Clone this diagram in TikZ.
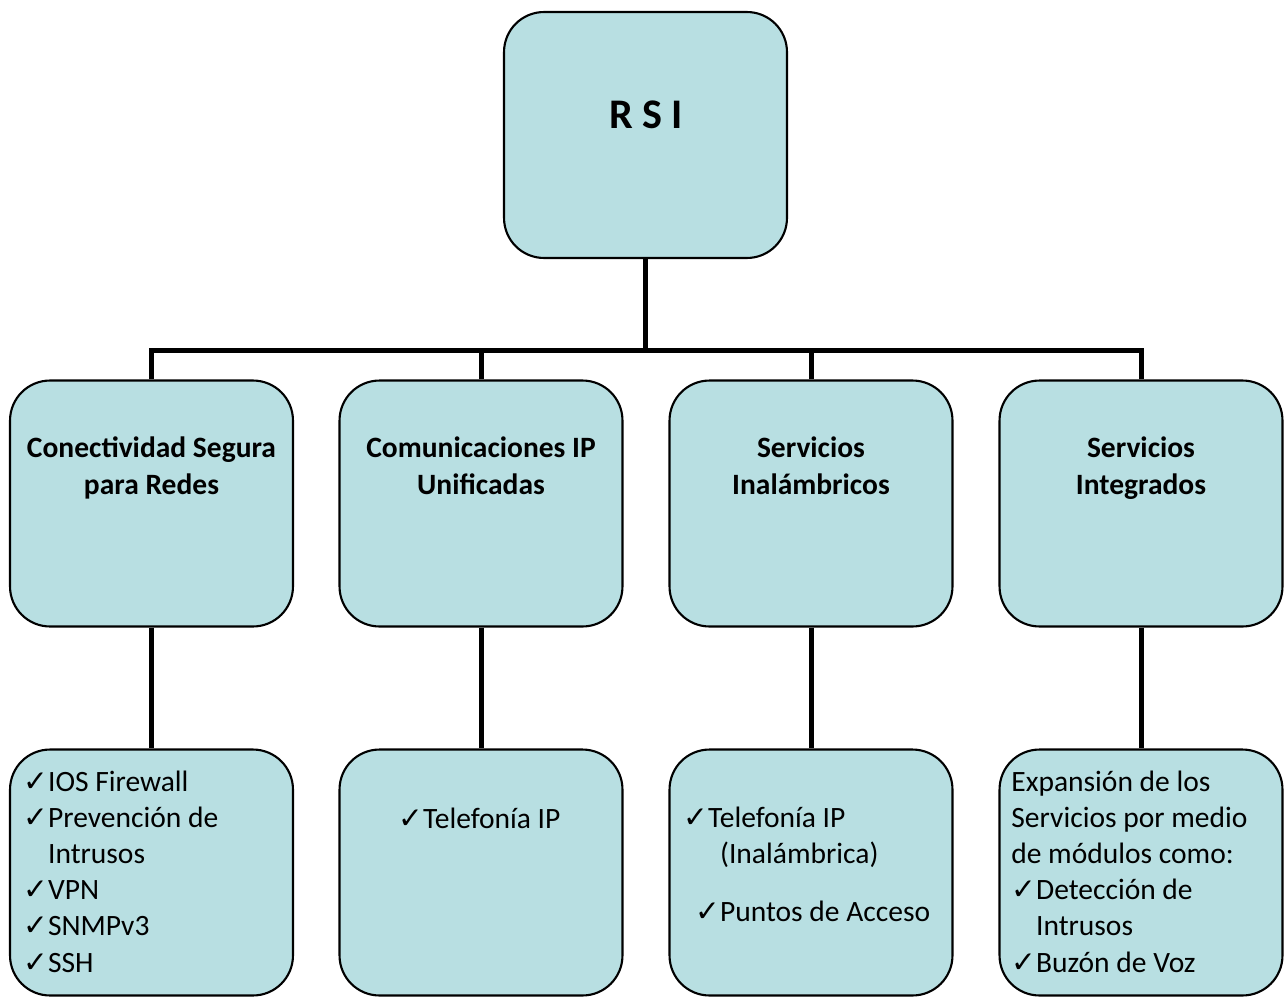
\documentclass[tikz,border=0pt]{standalone}
\usepackage{fontspec}
\setmainfont{Carlito}
\newfontfamily\chkfont{DejaVu Sans}
\newcommand{\chk}{{\chkfont ✓}}
\definecolor{boxfill}{RGB}{184,223,226}

\begin{document}
\begin{tikzpicture}[x=0.02cm,y=-0.02cm,
  box/.style={draw,line width=1.2pt,fill=boxfill,rounded corners=0.8cm,
    minimum width=5.66cm,minimum height=4.92cm,inner sep=0pt},
  conn/.style={line width=0.1cm},
  hd/.style={font=\fontsize{16.8}{20.5}\selectfont\bfseries,align=center,anchor=base},
  txt/.style={font=\fontsize{16.8}{20.5}\selectfont,align=left,anchor=base west,inner sep=0pt}]
\useasboundingbox (0,0) rectangle (1287,997);

% boxes
\node[box] (rsi) at (645.5,135) {};
\node[box] (seg) at (151.5,503.5) {};
\node[box] (com) at (481,503.5) {};
\node[box] (ina) at (811,503.5) {};
\node[box] (int) at (1141,503.5) {};
\node[box] (seg-l) at (151.5,872.5) {};
\node[box] (com-l) at (481,872.5) {};
\node[box] (ina-l) at (811,872.5) {};
\node[box] (int-l) at (1141,872.5) {};

% titles (base = last line)
\node[font=\fontsize{24}{29}\selectfont\bfseries,anchor=base] (rsi-t) at (646,129) {R S I};
\node[hd] (seg-t) at (151.5,494) {Conectividad Segura\\para Redes};
\node[hd] (com-t) at (481,494) {Comunicaciones IP\\Unificadas};
\node[hd] (ina-t) at (811,494) {Servicios\\Inalámbricos};
\node[hd] (int-t) at (1141,494) {Servicios\\Integrados};

% lists (base = last line)
\node[txt] (seg-x) at (23,972) {\chk IOS Firewall\\ \chk Prevención de\\ \hphantom{\chk}Intrusos\\ \chk VPN\\ \chk SNMPv3\\ \chk SSH};
\node[txt] (com-x) at (398,828) {\chk Telefonía IP};
\node[txt] (ina-x) at (683,921) {\chk Telefonía IP\\ \hspace*{0.24cm}\hphantom{\chk}(Inalámbrica)\\[0.42cm] \hspace*{0.24cm}\chk Puntos de Acceso};
\node[txt] (int-x) at (1011,972) {Expansión de los\\ Servicios por medio\\ de módulos como:\\ \chk Detección de\\ \hphantom{\chk}Intrusos\\ \chk Buzón de Voz};

% connectors
\coordinate (bus) at (646,350);
\draw[conn] (rsi.south) -- (rsi.south |- bus);
\foreach \b in {seg,com,ina,int} {
  \draw[conn] (\b.north) |- (bus);
  \draw[conn] (\b.south) -- (\b-l.north);
}
\end{tikzpicture}
\end{document}
